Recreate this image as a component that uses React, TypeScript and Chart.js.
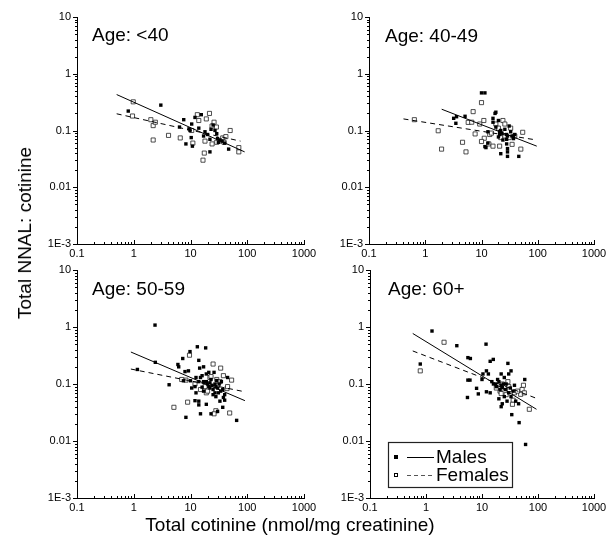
import React, { useEffect, useRef } from 'react';
import { Chart, registerables } from 'chart.js';

Chart.register(...registerables);

const FONT = '"Liberation Sans", Arial, Helvetica, sans-serif';

type Pt = [number, number];

// ---------- tick labels ----------
const xTickValues = [0.1, 1, 10, 100, 1000];
const xTickLabels = ['0.1', '1', '10', '100', '1000'];
const yTickValues = [0.001, 0.01, 0.1, 1, 10];
const yTickLabels = ['1E-3', '0.01', '0.1', '1', '10'];

const panelTitles = ['Age: <40', 'Age: 40-49', 'Age: 50-59', 'Age: 60+'];
const legendLabels = ['Males', 'Females'];
const xTitle = 'Total cotinine (nmol/mg creatinine)';
const yTitle = 'Total NNAL: cotinine';

// ---------- data: Age <40 ----------
const males40: Pt[] = [
  [0.8, 0.22], [3.0, 0.28], [7.6, 0.155], [6.4, 0.115], [9.4, 0.107], [8.3, 0.058], [10.3, 0.075],
  [10.8, 0.053], [10.5, 0.13], [12, 0.17], [14, 0.11], [15.5, 0.19], [17, 0.08], [22, 0.042],
  [23, 0.105], [25, 0.125], [29, 0.088], [33, 0.068], [36, 0.065], [47, 0.047], [22, 0.07],
  [20, 0.085], [30, 0.072], [40, 0.06], [9.8, 0.1], [27, 0.1], [18, 0.095], [31, 0.062],
];
const females40: Pt[] = [
  [0.98, 0.32], [0.95, 0.18], [2.0, 0.155], [2.2, 0.122], [2.4, 0.14], [2.2, 0.068], [4.1, 0.082],
  [6.6, 0.074], [11, 0.06], [13.2, 0.19], [14, 0.15], [16.6, 0.03], [17.5, 0.04], [19, 0.16],
  [21.6, 0.2], [24, 0.12], [26, 0.14], [28.6, 0.115], [24, 0.058], [29, 0.062], [37, 0.074],
  [42, 0.078], [50, 0.1], [39, 0.062], [71, 0.05], [71, 0.042], [18, 0.065], [10.5, 0.1], [33, 0.065],
];
const males40Fit: Pt[] = [[0.5, 0.43], [90, 0.042]];
const females40Fit: Pt[] = [[0.5, 0.197], [76, 0.065]];

// ---------- data: Age 40-49 ----------
const males4049: Pt[] = [
  [10, 0.46], [11.5, 0.46], [3.6, 0.175], [5.1, 0.178], [3.2, 0.164], [3.5, 0.134], [17.4, 0.2],
  [18, 0.21], [16, 0.164], [16, 0.14], [20, 0.15], [21, 0.095], [22, 0.1], [23, 0.09], [26, 0.105],
  [28, 0.085], [29, 0.08], [31, 0.12], [33, 0.095], [35, 0.08], [37, 0.072], [39, 0.085],
  [11.5, 0.052], [13, 0.06], [28, 0.07], [28, 0.058], [29, 0.048], [29, 0.042], [22, 0.039],
  [29, 0.035], [46, 0.035], [24, 0.068], [21, 0.085], [20, 0.077], [18, 0.115], [13, 0.095], [12, 0.05],
];
const females4049: Pt[] = [
  [0.64, 0.155], [1.7, 0.099], [1.95, 0.047], [4.6, 0.062], [5.3, 0.042], [7.1, 0.215], [5.8, 0.139],
  [7.7, 0.087], [6.7, 0.14], [10, 0.31], [11, 0.15], [9.3, 0.13], [11.2, 0.073], [10, 0.064],
  [13.5, 0.058], [16, 0.053], [21, 0.053], [18, 0.13], [24, 0.15], [26, 0.13], [20, 0.11], [14, 0.085],
  [15, 0.09], [35, 0.057], [50, 0.047], [54, 0.093], [31, 0.075], [33, 0.11], [22, 0.075], [26, 0.08], [39, 0.08],
];
const males4049Fit: Pt[] = [[1.96, 0.237], [96, 0.053]];
const females4049Fit: Pt[] = [[0.41, 0.16], [96, 0.068]];

// ---------- data: Age 50-59 ----------
const males5059: Pt[] = [
  [2.37, 1.08], [2.4, 0.24], [1.16, 0.18], [4.2, 0.097], [7.3, 0.28], [6.2, 0.2], [6.0, 0.22], [9.8, 0.37],
  [13.2, 0.45], [18.5, 0.43], [14, 0.26], [9.2, 0.17], [8, 0.165], [7.5, 0.114], [10, 0.114], [12, 0.09],
  [10.5, 0.085], [12.5, 0.13], [15, 0.13], [16, 0.14], [14.5, 0.19], [17, 0.2], [19, 0.15], [21, 0.16],
  [26, 0.16], [14, 0.11], [17, 0.11], [19, 0.11], [20, 0.1], [21, 0.09], [22, 0.085], [24, 0.095],
  [25, 0.08], [27, 0.1], [28, 0.09], [30, 0.085], [32, 0.1], [27, 0.07], [25, 0.065], [28, 0.06],
  [31, 0.07], [34, 0.075], [37, 0.08], [40, 0.065], [38, 0.058], [33, 0.05], [40, 0.052], [12, 0.051],
  [14, 0.05], [19, 0.044], [14, 0.043], [8.3, 0.026], [15, 0.03], [23, 0.03], [30, 0.033], [37, 0.039],
  [65, 0.023], [16, 0.088], [17, 0.075], [12.5, 0.07], [23, 0.12], [35, 0.11], [45, 0.13], [22, 0.105], [29, 0.115],
];
const females5059: Pt[] = [
  [5.1, 0.039], [8.9, 0.048], [8.3, 0.117], [9.6, 0.32], [25, 0.224], [34, 0.19], [53, 0.117], [44, 0.083],
  [49, 0.031], [28, 0.034], [26, 0.03], [19, 0.07], [22, 0.13], [23, 0.135], [15, 0.08], [29, 0.12],
  [33, 0.11], [45, 0.09], [7, 0.12], [12, 0.1], [18, 0.09], [38, 0.14], [30, 0.095], [20, 0.075],
];
const males5059Fit: Pt[] = [[0.89, 0.364], [91, 0.051]];
const females5059Fit: Pt[] = [[0.89, 0.183], [91, 0.073]];

// ---------- data: Age 60+ ----------
const males60: Pt[] = [
  [1.28, 0.85], [3.55, 0.47], [11.8, 0.5], [0.79, 0.224], [5.6, 0.29], [6.2, 0.28], [15.9, 0.27], [14, 0.25],
  [6.1, 0.117], [5.6, 0.117], [5.5, 0.058], [8.6, 0.067], [8, 0.084], [10.4, 0.15], [10, 0.12], [12, 0.17],
  [13, 0.15], [14, 0.07], [12, 0.073], [16, 0.1], [17.5, 0.1], [19, 0.12], [22, 0.15], [29, 0.23],
  [30, 0.15], [33, 0.17], [24, 0.1], [22, 0.095], [23, 0.088], [21, 0.08], [26, 0.08], [25, 0.06],
  [23, 0.045], [22, 0.04], [20, 0.055], [30, 0.07], [33, 0.06], [36, 0.075], [38, 0.095], [58, 0.12],
  [45, 0.045], [40, 0.05], [28, 0.05], [34, 0.029], [46, 0.021], [60, 0.0087], [20, 0.11], [27, 0.1],
  [18, 0.09], [25, 0.13], [15, 0.11], [32, 0.085],
];
const females60: Pt[] = [
  [0.79, 0.17], [2.1, 0.54], [21, 0.075], [26, 0.09], [30, 0.09], [31, 0.08], [38, 0.07], [49, 0.066],
  [52, 0.08], [57, 0.07], [70, 0.036], [36, 0.052], [35, 0.044], [22, 0.068], [23, 0.1], [29, 0.11],
  [43, 0.075], [55, 0.095], [27, 0.065], [18, 0.085],
];
const males60Fit: Pt[] = [[0.58, 0.77], [94, 0.036]];
const females60Fit: Pt[] = [[0.58, 0.38], [94, 0.056]];

// ---------- layout (pixel boxes of each plot area) ----------
const W = 610;
const H = 541;
const X_AXIS_H = 20;

const panels = [
  { title: panelTitles[0], males: males40, females: females40, mFit: males40Fit, fFit: females40Fit,
    box: { left: 77, right: 304, top: 17, bottom: 244 }, tdx: 15, tdy: 19, legend: false },
  { title: panelTitles[1], males: males4049, females: females4049, mFit: males4049Fit, fFit: females4049Fit,
    box: { left: 369, right: 594, top: 17, bottom: 244 }, tdx: 16, tdy: 20, legend: false },
  { title: panelTitles[2], males: males5059, females: females5059, mFit: males5059Fit, fFit: females5059Fit,
    box: { left: 77, right: 304, top: 270, bottom: 498 }, tdx: 15, tdy: 20, legend: false },
  { title: panelTitles[3], males: males60, females: females60, mFit: males60Fit, fFit: females60Fit,
    box: { left: 370, right: 594, top: 270, bottom: 498 }, tdx: 18, tdy: 20, legend: true },
];

const toXY = (arr: Pt[]) => arr.map(([x, y]) => ({ x, y }));

const decoPlugin = {
  id: 'deco',
  afterDraw(chart: any, _args: any, opts: any) {
    const { ctx, chartArea: a, scales } = chart;
    const xs = scales.x;
    const ys = scales.y;
    ctx.save();
    ctx.strokeStyle = '#000';
    ctx.lineWidth = 1;
    ctx.beginPath();
    for (let e = -1; e <= 3; e++) {
      for (let m = 1; m <= 9; m++) {
        const v = m * Math.pow(10, e);
        if (v > 1000.0001) break;
        const px = Math.round(xs.getPixelForValue(v)) + 0.5;
        const len = m === 1 ? 4 : 2;
        ctx.moveTo(px, a.bottom);
        ctx.lineTo(px, a.bottom - len);
      }
    }
    for (let e = -3; e <= 1; e++) {
      for (let m = 1; m <= 9; m++) {
        const v = m * Math.pow(10, e);
        if (v > 10.0001) break;
        const py = Math.round(ys.getPixelForValue(v)) + 0.5;
        const len = m === 1 ? 4 : 2;
        ctx.moveTo(a.left, py);
        ctx.lineTo(a.left - len, py);
      }
    }
    ctx.stroke();

    ctx.fillStyle = '#000';
    ctx.font = `19px ${FONT}`;
    ctx.textAlign = 'left';
    ctx.textBaseline = 'middle';
    ctx.fillText(opts.title, a.left + opts.tdx, a.top + opts.tdy);

    if (opts.legend) {
      const bx = a.left + 18;
      const by = a.top + 172;
      const bw = 124;
      const bh = 45;
      ctx.fillStyle = '#fff';
      ctx.fillRect(bx, by, bw, bh);
      ctx.strokeStyle = '#222';
      ctx.lineWidth = 1.2;
      ctx.strokeRect(bx + 0.5, by + 0.5, bw, bh);
      const rows = [by + 15, by + 33];
      // males
      ctx.fillStyle = '#000';
      ctx.fillRect(bx + 6, rows[0] - 2, 4, 4);
      ctx.lineWidth = 1;
      ctx.strokeStyle = '#000';
      ctx.beginPath();
      ctx.moveTo(bx + 19, rows[0] + 0.5);
      ctx.lineTo(bx + 46, rows[0] + 0.5);
      ctx.stroke();
      // females
      ctx.fillStyle = '#fff';
      ctx.fillRect(bx + 6, rows[1] - 2, 4, 4);
      ctx.strokeRect(bx + 6.5, rows[1] - 1.5, 3, 3);
      ctx.setLineDash([4, 3]);
      ctx.strokeStyle = '#555';
      ctx.beginPath();
      ctx.moveTo(bx + 19, rows[1] + 0.5);
      ctx.lineTo(bx + 47, rows[1] + 0.5);
      ctx.stroke();
      ctx.setLineDash([]);
      ctx.fillStyle = '#000';
      ctx.font = `19px ${FONT}`;
      ctx.fillText(legendLabels[0], bx + 48, rows[0] + 1);
      ctx.fillText(legendLabels[1], bx + 48, rows[1] + 1);
    }
    ctx.restore();
  },
};

function Panel({ cfg }: { cfg: any }) {
  const ref = useRef<HTMLCanvasElement | null>(null);
  useEffect(() => {
    if (!ref.current) return;
    const b = cfg.box;
    const chart = new Chart(ref.current, {
      type: 'scatter',
      data: {
        datasets: [
          { data: toXY(cfg.mFit), showLine: true, borderColor: '#000', borderWidth: 1, pointRadius: 0, fill: false } as any,
          { data: toXY(cfg.fFit), showLine: true, borderColor: '#000', borderWidth: 1, borderDash: [5, 4], pointRadius: 0, fill: false } as any,
          { data: toXY(cfg.males), pointStyle: 'rect', pointRadius: 2.4, backgroundColor: '#000', borderColor: '#000', borderWidth: 0 } as any,
          { data: toXY(cfg.females), pointStyle: 'rect', pointRadius: 2.9, backgroundColor: '#fff', borderColor: '#222', borderWidth: 0.8 } as any,
        ],
      },
      options: {
        responsive: false,
        animation: false,
        devicePixelRatio: 1,
        layout: { padding: { left: 0, top: b.top, right: W - b.right, bottom: H - b.bottom - X_AXIS_H } },
        plugins: {
          legend: { display: false },
          tooltip: { enabled: false },
          deco: { title: cfg.title, tdx: cfg.tdx, tdy: cfg.tdy, legend: cfg.legend },
        } as any,
        scales: {
          x: {
            type: 'logarithmic',
            min: 0.1,
            max: 1000,
            afterBuildTicks: (s: any) => { s.ticks = xTickValues.map((v) => ({ value: v })); },
            afterFit: (s: any) => { s.height = X_AXIS_H; },
            grid: { display: false, drawTicks: false },
            border: { display: true, color: '#000', width: 1 },
            ticks: {
              color: '#000',
              padding: 3,
              maxRotation: 0,
              autoSkip: false,
              font: { family: FONT, size: 11 },
              callback: (_v: any, i: number) => xTickLabels[i],
            },
          },
          y: {
            type: 'logarithmic',
            min: 0.001,
            max: 10,
            afterBuildTicks: (s: any) => { s.ticks = yTickValues.map((v) => ({ value: v })); },
            afterFit: (s: any) => { s.width = b.left; },
            grid: { display: false, drawTicks: false },
            border: { display: true, color: '#000', width: 1 },
            ticks: {
              color: '#000',
              padding: 6,
              autoSkip: false,
              font: { family: FONT, size: 11 },
              callback: (_v: any, i: number) => yTickLabels[i],
            },
          },
        } as any,
      },
      plugins: [decoPlugin as any],
    });
    return () => chart.destroy();
  }, [cfg]);
  return (
    <canvas
      ref={ref}
      width={W}
      height={H}
      style={{ position: 'absolute', left: 0, top: 0, width: W, height: H }}
    />
  );
}

export default function App() {
  return (
    <div style={{ position: 'absolute', left: 0, top: 0, width: W, height: H, background: '#fff', fontFamily: FONT, color: '#000' }}>
      {panels.map((p, i) => (
        <Panel key={i} cfg={p} />
      ))}
      <div style={{ position: 'absolute', left: 290, top: 525, transform: 'translate(-50%, -50%)', fontSize: 19, whiteSpace: 'nowrap', lineHeight: '22px' }}>
        {xTitle}
      </div>
      <div style={{ position: 'absolute', left: 25, top: 233, transform: 'translate(-50%, -50%) rotate(-90deg)', fontSize: 19, whiteSpace: 'nowrap', lineHeight: '22px' }}>
        {yTitle}
      </div>
    </div>
  );
}
